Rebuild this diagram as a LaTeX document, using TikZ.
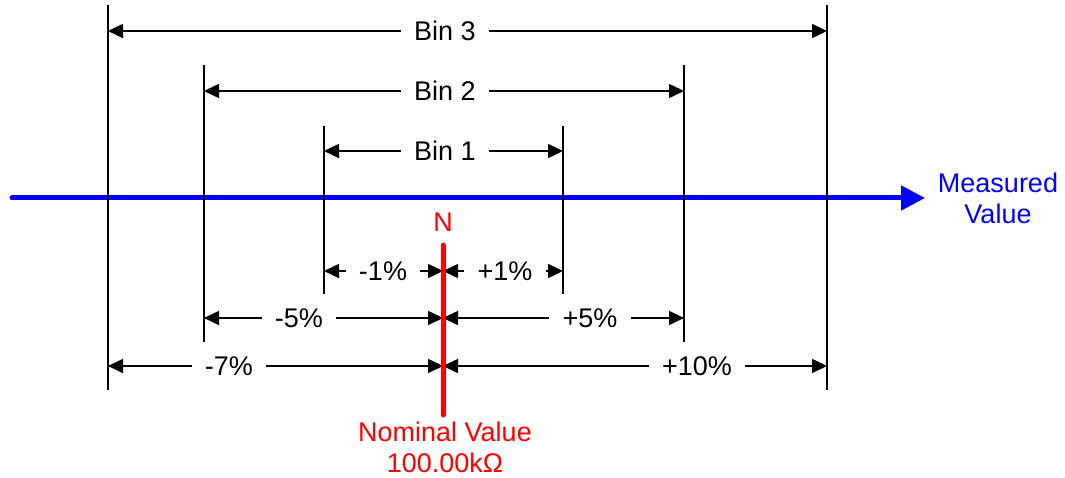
\documentclass[tikz,border=0pt]{standalone}
\usepackage{fontspec}
\setmainfont{Liberation Sans}
\usetikzlibrary{arrows.meta}

\begin{document}
\begin{tikzpicture}[
  x=1pt, y=-1pt,
  every node/.style={font=\fontsize{27}{31}\selectfont},
  axis/.style={line width=5pt, blue, line cap=round, -{Triangle[length=24pt,width=24pt]}},
  limit/.style={line width=1.6pt, black},
  dim/.style={line width=1.6pt, -{Triangle[length=15pt,width=14pt]}},
  dimlabel/.style={inner xsep=13pt, inner ysep=0pt, text height=19.3pt, text depth=0pt},
  nominal/.style={line width=5pt, red, line cap=round}
]
\useasboundingbox (0,0) rectangle (1065,478);

% Measured value axis
\coordinate (start) at (12,198);
\coordinate (tip) at (925,198);
\draw[axis] (start) -- (tip);
\node[blue, align=center] (meas) at (998,198) {Measured\\Value};

% Bin limits
\draw[limit] (108,5) -- (108,390);
\draw[limit] (827,5) -- (827,390);
\draw[limit] (204,65) -- (204,342);
\draw[limit] (684,65) -- (684,342);
\draw[limit] (324,126) -- (324,294);
\draw[limit] (563,126) -- (563,294);

% Upper dimensions: bins
\coordinate (L3) at (108,31);
\coordinate (R3) at (827,31);
\coordinate (L2) at (204,91);
\coordinate (R2) at (684,91);
\coordinate (L1) at (324,151);
\coordinate (R1) at (563,151);

\node[dimlabel] (bin3) at (445,31) {Bin 3};
\node[dimlabel] (bin2) at (445,91) {Bin 2};
\node[dimlabel] (bin1) at (445,151) {Bin 1};

\draw[dim] (bin3) -- (L3);
\draw[dim] (bin3) -- (R3);
\draw[dim] (bin2) -- (L2);
\draw[dim] (bin2) -- (R2);
\draw[dim] (bin1) -- (L1);
\draw[dim] (bin1) -- (R1);

% Lower dimensions: tolerances
\coordinate (l1) at (324,271);
\coordinate (r1) at (563,271);
\coordinate (n1) at (443,271);
\coordinate (l5) at (204,318);
\coordinate (r5) at (684,318);
\coordinate (n5) at (443,318);
\coordinate (l7) at (108,366);
\coordinate (r10) at (827,366);
\coordinate (n7) at (443,366);

\node[dimlabel] (m1) at (383,271) {-1\%};
\node[dimlabel] (p1) at (505,271) {+1\%};
\node[dimlabel] (m5) at (299,318) {-5\%};
\node[dimlabel] (p5) at (590,318) {+5\%};
\node[dimlabel] (m7) at (229,366) {-7\%};
\node[dimlabel] (p10) at (697,366) {+10\%};

\draw[dim] (m1) -- (l1);
\draw[dim] (m1) -- (n1);
\draw[dim] (p1) -- (n1);
\draw[dim] (p1) -- (r1);
\draw[dim] (m5) -- (l5);
\draw[dim] (m5) -- (n5);
\draw[dim] (p5) -- (n5);
\draw[dim] (p5) -- (r5);
\draw[dim] (m7) -- (l7);
\draw[dim] (m7) -- (n7);
\draw[dim] (p10) -- (n7);
\draw[dim] (p10) -- (r10);

% Nominal value
\node[red] (N) at (443,222) {N};
\draw[nominal] (443,245) -- (443,415);
\node[red, align=center, inner sep=1pt, font=\fontsize{27}{31}\selectfont] (nomval) at (445,447) {Nominal Value\\100.00kΩ};

\end{tikzpicture}
\end{document}
